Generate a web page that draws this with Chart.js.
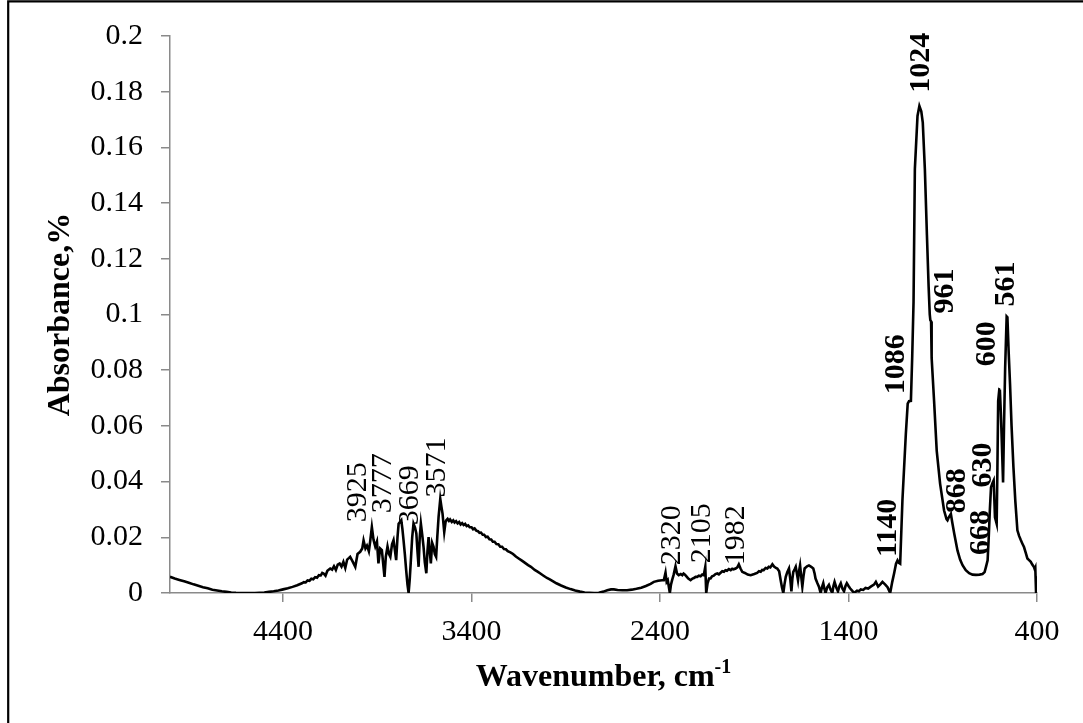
<!DOCTYPE html>
<html>
<head>
<meta charset="utf-8">
<script src="https://cdn.jsdelivr.net/npm/chart.js@4/dist/chart.umd.min.js"></script>
<style>
  html, body { margin: 0; padding: 0; background: #ffffff; }
  #wrap { width: 1083px; height: 723px; position: relative; }
</style>
</head>
<body>
<div id="wrap"><canvas id="ftir" width="1083" height="723"></canvas></div>
<script>
// FTIR spectrum: wavenumber (cm-1) and absorbance, one row of 16 points per line
const wavenumbers = [
  5000, 4975, 4950, 4925, 4900, 4875, 4850, 4825, 4800, 4775, 4750, 4725, 4700, 4675, 4650, 4600,
  4550, 4500, 4475, 4450, 4425, 4400, 4375, 4350, 4325, 4300, 4290, 4280, 4270, 4260, 4250, 4240,
  4230, 4220, 4210, 4200, 4192, 4185, 4175, 4165, 4150, 4140, 4130, 4120, 4110, 4100, 4090, 4080,
  4070, 4060, 4050, 4044, 4030, 4017, 4005, 3991, 3980, 3973, 3963, 3955, 3945, 3938, 3929, 3920,
  3911, 3902, 3894, 3885, 3876, 3862, 3855, 3846, 3838, 3831, 3822, 3814, 3806, 3800, 3793, 3787,
  3780, 3773, 3767, 3761, 3754, 3747, 3740, 3734, 3728, 3722, 3715, 3708, 3700, 3693, 3687, 3681,
  3675, 3669, 3662, 3655, 3648, 3640, 3634, 3628, 3622, 3616, 3609, 3602, 3595, 3588, 3582, 3575,
  3566, 3560, 3554, 3545, 3538, 3534, 3527, 3520, 3514, 3505, 3497, 3490, 3482, 3474, 3466, 3458,
  3450, 3442, 3434, 3426, 3418, 3410, 3400, 3392, 3384, 3375, 3366, 3358, 3350, 3341, 3333, 3324,
  3315, 3305, 3296, 3287, 3278, 3268, 3258, 3248, 3238, 3228, 3218, 3208, 3194, 3180, 3165, 3150,
  3135, 3120, 3100, 3085, 3065, 3050, 3035, 3020, 3000, 2985, 2965, 2950, 2925, 2900, 2875, 2850,
  2825, 2800, 2775, 2750, 2725, 2700, 2680, 2660, 2645, 2625, 2600, 2575, 2550, 2525, 2500, 2475,
  2450, 2433, 2410, 2390, 2380, 2371, 2365, 2359, 2348, 2342, 2336, 2328, 2318, 2310, 2301, 2290,
  2282, 2275, 2268, 2260, 2250, 2238, 2228, 2220, 2211, 2203, 2194, 2185, 2176, 2168, 2160, 2155,
  2148, 2140, 2132, 2124, 2115, 2106, 2096, 2088, 2080, 2070, 2061, 2053, 2045, 2035, 2025, 2017,
  2010, 1999, 1990, 1982, 1973, 1964, 1950, 1935, 1919, 1900, 1885, 1875, 1866, 1858, 1850, 1840,
  1831, 1823, 1815, 1804, 1795, 1785, 1778, 1768, 1760, 1753, 1746, 1740, 1733, 1725, 1716, 1709,
  1703, 1698, 1693, 1686, 1680, 1674, 1668, 1662, 1657, 1651, 1645, 1639, 1633, 1620, 1610, 1598,
  1587, 1580, 1575, 1565, 1557, 1548, 1541, 1534, 1528, 1522, 1513, 1504, 1495, 1486, 1480, 1474,
  1465, 1456, 1448, 1441, 1432, 1424, 1416, 1409, 1400, 1392, 1380, 1371, 1355, 1345, 1335, 1322,
  1310, 1296, 1282, 1265, 1255, 1243, 1230, 1220, 1205, 1193, 1179, 1168, 1158, 1148, 1140, 1133,
  1126, 1114, 1096, 1086, 1079, 1069, 1062, 1055, 1048, 1034, 1024, 1014, 1006, 995, 984, 975,
  969, 966, 962, 960, 958, 946, 932, 914, 893, 880, 875, 868, 857, 850, 839, 822,
  808, 795, 778, 760, 742, 724, 705, 689, 678, 671, 662, 656, 650, 644, 636, 630,
  626, 623, 614, 610, 606, 600, 597, 592, 588, 580, 575, 569, 561, 557, 550, 543,
  535, 525, 515, 504, 495, 486, 478, 469, 460, 451, 442, 433, 425, 416, 412, 409,
  405, 402, 400
];
const absorbance = [
  0.0058, 0.0052, 0.0047, 0.0042, 0.0037, 0.0031, 0.0026, 0.0021, 0.0017, 0.0012, 0.0009, 0.0006, 0.0004, 0.0002, 0.0001, 0.0000,
  0.0000, 0.0002, 0.0004, 0.0006, 0.0009, 0.0013, 0.0017, 0.0022, 0.0028, 0.0035, 0.0039, 0.0038, 0.0045, 0.0044, 0.0051, 0.0049,
  0.0057, 0.0055, 0.0064, 0.0063, 0.0072, 0.0070, 0.0062, 0.0080, 0.0088, 0.0084, 0.0096, 0.0083, 0.0102, 0.0106, 0.0095, 0.0112,
  0.0090, 0.0120, 0.0126, 0.0130, 0.0112, 0.0094, 0.0140, 0.0148, 0.0160, 0.0189, 0.0160, 0.0170, 0.0150, 0.0185, 0.0237, 0.0190,
  0.0167, 0.0185, 0.0106, 0.0160, 0.0154, 0.0058, 0.0130, 0.0167, 0.0140, 0.0130, 0.0175, 0.0190, 0.0150, 0.0118, 0.0200, 0.0249,
  0.0255, 0.0261, 0.0230, 0.0190, 0.0140, 0.0082, 0.0030, 0.0000, 0.0050, 0.0118, 0.0200, 0.0249, 0.0235, 0.0214, 0.0150, 0.0094,
  0.0200, 0.0249, 0.0210, 0.0167, 0.0110, 0.0071, 0.0150, 0.0201, 0.0150, 0.0106, 0.0180, 0.0167, 0.0140, 0.0130, 0.0200, 0.0273,
  0.0338, 0.0310, 0.0285, 0.0219, 0.0255, 0.0261, 0.0266, 0.0259, 0.0264, 0.0255, 0.0261, 0.0253, 0.0258, 0.0250, 0.0255, 0.0246,
  0.0251, 0.0244, 0.0248, 0.0240, 0.0243, 0.0236, 0.0236, 0.0229, 0.0232, 0.0224, 0.0222, 0.0216, 0.0217, 0.0209, 0.0209, 0.0201,
  0.0202, 0.0193, 0.0192, 0.0184, 0.0184, 0.0176, 0.0175, 0.0166, 0.0166, 0.0158, 0.0157, 0.0150, 0.0146, 0.0140, 0.0131, 0.0124,
  0.0117, 0.0110, 0.0100, 0.0094, 0.0083, 0.0077, 0.0070, 0.0063, 0.0054, 0.0049, 0.0041, 0.0035, 0.0027, 0.0020, 0.0014, 0.0009,
  0.0005, 0.0002, 0.0001, 0.0000, 0.0001, 0.0005, 0.0010, 0.0013, 0.0013, 0.0011, 0.0010, 0.0010, 0.0012, 0.0015, 0.0019, 0.0025,
  0.0033, 0.0040, 0.0044, 0.0046, 0.0046, 0.0073, 0.0040, 0.0046, 0.0000, 0.0030, 0.0046, 0.0065, 0.0096, 0.0070, 0.0064, 0.0068,
  0.0064, 0.0070, 0.0066, 0.0060, 0.0052, 0.0046, 0.0052, 0.0054, 0.0058, 0.0058, 0.0062, 0.0060, 0.0066, 0.0064, 0.0094, 0.0000,
  0.0035, 0.0052, 0.0052, 0.0060, 0.0062, 0.0068, 0.0070, 0.0067, 0.0072, 0.0078, 0.0076, 0.0082, 0.0080, 0.0086, 0.0082, 0.0087,
  0.0085, 0.0088, 0.0092, 0.0103, 0.0088, 0.0076, 0.0072, 0.0066, 0.0064, 0.0068, 0.0072, 0.0078, 0.0076, 0.0083, 0.0082, 0.0090,
  0.0088, 0.0094, 0.0092, 0.0103, 0.0095, 0.0090, 0.0088, 0.0078, 0.0046, 0.0020, 0.0000, 0.0030, 0.0058, 0.0075, 0.0088, 0.0050,
  0.0006, 0.0050, 0.0076, 0.0085, 0.0094, 0.0070, 0.0046, 0.0080, 0.0099, 0.0060, 0.0023, 0.0060, 0.0088, 0.0096, 0.0099, 0.0094,
  0.0088, 0.0070, 0.0052, 0.0035, 0.0023, 0.0000, 0.0020, 0.0035, 0.0015, 0.0000, 0.0020, 0.0029, 0.0012, 0.0000, 0.0025, 0.0040,
  0.0020, 0.0006, 0.0025, 0.0035, 0.0015, 0.0006, 0.0025, 0.0035, 0.0025, 0.0017, 0.0008, 0.0000, 0.0008, 0.0006, 0.0013, 0.0011,
  0.0018, 0.0016, 0.0023, 0.0030, 0.0040, 0.0023, 0.0032, 0.0040, 0.0030, 0.0021, 0.0000, 0.0040, 0.0071, 0.0105, 0.0117, 0.0108,
  0.0105, 0.0332, 0.0570, 0.0680, 0.0689, 0.0690, 0.0850, 0.1046, 0.1523, 0.1713, 0.1749, 0.1730, 0.1689, 0.1523, 0.1285, 0.1100,
  0.1000, 0.0980, 0.0975, 0.0880, 0.0844, 0.0689, 0.0510, 0.0392, 0.0296, 0.0265, 0.0261, 0.0272, 0.0284, 0.0255, 0.0213, 0.0153,
  0.0120, 0.0100, 0.0082, 0.0071, 0.0066, 0.0065, 0.0066, 0.0068, 0.0075, 0.0093, 0.0117, 0.0200, 0.0300, 0.0380, 0.0395, 0.0404,
  0.0330, 0.0272, 0.0249, 0.0450, 0.0689, 0.0731, 0.0730, 0.0650, 0.0570, 0.0397, 0.0600, 0.0808, 0.0993, 0.0990, 0.0860, 0.0749,
  0.0600, 0.0451, 0.0330, 0.0225, 0.0205, 0.0190, 0.0178, 0.0165, 0.0145, 0.0124, 0.0118, 0.0112, 0.0102, 0.0093, 0.0085, 0.0090,
  0.0000, 0.0060, 0.0000
];

// Axis ticks
const xTickValues = [4400, 3400, 2400, 1400, 400];
const yTickValues = [0, 0.02, 0.04, 0.06, 0.08, 0.1, 0.12, 0.14, 0.16, 0.18, 0.2];

// Band positions written beside the peaks
const peakLabels = [3925, 3777, 3669, 3571, 2320, 2105, 1982, 1140, 1086, 1024, 961, 868, 668, 630, 600, 561];

// Placement of each band label: horizontal shift (px) and height of the label foot (absorbance units)
const peakLabelLayout = [
  { dx: -14, foot: 0.0254, bold: false },
  { dx: -17, foot: 0.0286, bold: false },
  { dx: -11, foot: 0.0243, bold: false },
  { dx: -2,  foot: 0.0343, bold: false },
  { dx: -3,  foot: 0.0100, bold: false },
  { dx: -14, foot: 0.0107, bold: false },
  { dx: -3,  foot: 0.0100, bold: false },
  { dx: -9,  foot: 0.0129, bold: true },
  { dx: -11, foot: 0.0714, bold: true },
  { dx: 1.5, foot: 0.1796, bold: true },
  { dx: 13.5, foot: 0.1004, bold: true },
  { dx: 8,   foot: 0.0286, bold: true },
  { dx: -5.5, foot: 0.0136, bold: true },
  { dx: -10.5, foot: 0.0379, bold: true },
  { dx: -12.5, foot: 0.0814, bold: true },
  { dx: -0.5, foot: 0.1029, bold: true }
];

const SERIF = '"Liberation Serif", "Times New Roman", serif';
const AXIS_GREY = '#8a8a8a';

const framePlugin = {
  id: 'frame',
  beforeDraw(chart) {
    const ctx = chart.ctx;
    ctx.save();
    ctx.fillStyle = '#ffffff';
    ctx.fillRect(0, 0, chart.width, chart.height);
    ctx.strokeStyle = '#000000';
    ctx.lineWidth = 2.2;
    ctx.beginPath();
    ctx.moveTo(8.2, chart.height);
    ctx.lineTo(8.2, 1.3);
    ctx.lineTo(chart.width, 1.3);
    ctx.stroke();
    ctx.restore();
  }
};

const annotationPlugin = {
  id: 'bandLabels',
  afterDatasetsDraw(chart) {
    const ctx = chart.ctx;
    const xs = chart.scales.x;
    const ys = chart.scales.y;
    ctx.save();
    ctx.fillStyle = '#000000';
    ctx.textAlign = 'left';
    ctx.textBaseline = 'middle';
    peakLabels.forEach((wn, i) => {
      const lay = peakLabelLayout[i];
      const px = xs.getPixelForValue(wn) + lay.dx;
      const py = ys.getPixelForValue(lay.foot);
      ctx.save();
      ctx.translate(px, py);
      ctx.rotate(-Math.PI / 2);
      ctx.font = (lay.bold ? 'bold ' : '') + '30px ' + SERIF;
      ctx.fillText(String(wn), 0, 0);
      ctx.restore();
    });

    // x-axis title with superscript unit
    const area = chart.chartArea;
    const cx = (area.left + area.right) / 2;
    const baseY = 686;
    ctx.textBaseline = 'alphabetic';
    ctx.font = 'bold 32px ' + SERIF;
    const main = 'Wavenumber, cm';
    const wMain = ctx.measureText(main).width;
    ctx.font = 'bold 20px ' + SERIF;
    const sup = '-1';
    const wSup = ctx.measureText(sup).width;
    const startX = cx - (wMain + wSup) / 2;
    ctx.font = 'bold 32px ' + SERIF;
    ctx.fillText(main, startX, baseY);
    ctx.font = 'bold 20px ' + SERIF;
    ctx.fillText(sup, startX + wMain, baseY - 13);
    ctx.restore();
  }
};

const ctx = document.getElementById('ftir').getContext('2d');
new Chart(ctx, {
  type: 'line',
  data: {
    datasets: [{
      label: 'Absorbance',
      data: wavenumbers.map((w, i) => ({ x: w, y: absorbance[i] })),
      borderColor: '#000000',
      borderWidth: 2.6,
      pointRadius: 0,
      tension: 0,
      fill: false
    }]
  },
  options: {
    responsive: false,
    devicePixelRatio: 1,
    animation: false,
    layout: { padding: { left: 0, right: 46, top: 33, bottom: 0 } },
    plugins: {
      legend: { display: false },
      tooltip: { enabled: false }
    },
    scales: {
      x: {
        type: 'linear',
        reverse: true,
        min: 400,
        max: 5000,
        afterBuildTicks(scale) { scale.ticks = xTickValues.map(v => ({ value: v })); },
        afterFit(scale) { scale.height = 130; },
        ticks: {
          color: '#000000',
          font: { family: SERIF, size: 30 },
          padding: 12,
          maxRotation: 0,
          autoSkip: false,
          callback: v => String(v)
        },
        grid: { display: true, drawOnChartArea: false, drawTicks: true, tickLength: 9, color: AXIS_GREY, lineWidth: 1.5 },
        border: { display: true, color: AXIS_GREY, width: 1.5 },
        title: { display: false }
      },
      y: {
        type: 'linear',
        min: 0,
        max: 0.2,
        afterBuildTicks(scale) { scale.ticks = yTickValues.map(v => ({ value: v })); },
        afterFit(scale) { scale.width = 170; },
        ticks: {
          color: '#000000',
          font: { family: SERIF, size: 30 },
          padding: 18,
          autoSkip: false,
          callback: v => String(+Number(v).toFixed(2))
        },
        grid: { display: true, drawOnChartArea: false, drawTicks: true, tickLength: 9, color: AXIS_GREY, lineWidth: 1.5 },
        border: { display: true, color: AXIS_GREY, width: 1.5 },
        title: {
          display: true,
          text: 'Absorbance,%',
          color: '#000000',
          font: { family: SERIF, size: 32, weight: 'bold' },
          padding: { top: 42, bottom: 0 }
        }
      }
    }
  },
  plugins: [framePlugin, annotationPlugin]
});
</script>
</body>
</html>
